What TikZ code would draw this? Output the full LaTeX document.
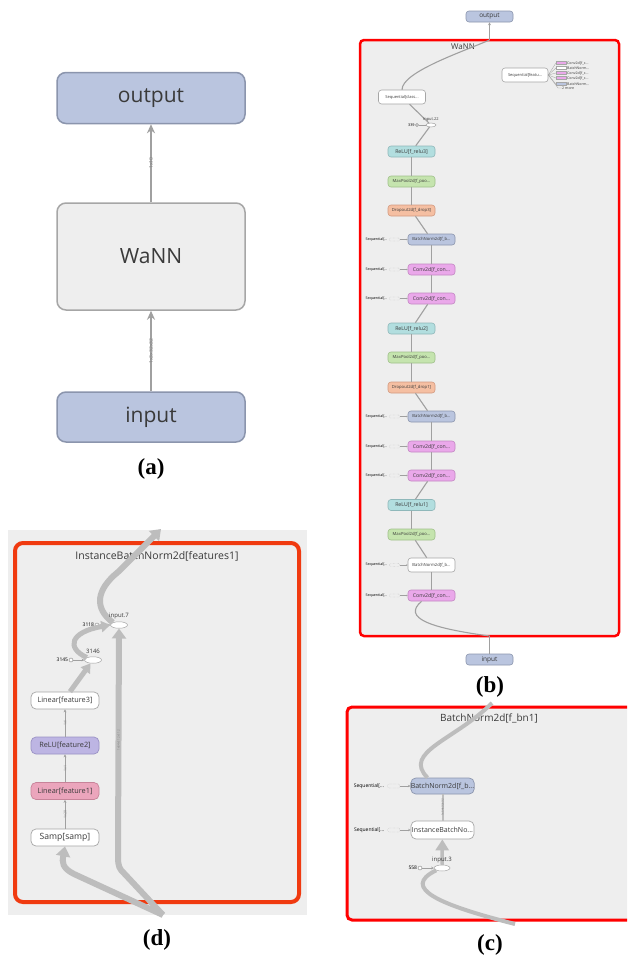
\documentclass[tikz,border=0pt]{standalone}
\usepackage{fontspec}
\setmainfont{Liberation Serif}
\newfontfamily\tbf{Open Sans}
\usetikzlibrary{arrows.meta,shapes.geometric}
\newcommand\tfs[1]{\fontsize{#1}{#1}\selectfont}
\definecolor{blueF}{HTML}{BAC5DF}
\definecolor{blueD}{HTML}{8B95AD}
\definecolor{panelG}{HTML}{EEEEEE}
\definecolor{grayD}{HTML}{A6A6A6}
\definecolor{tealF}{HTML}{B2DEDF}
\definecolor{tealD}{HTML}{8FB8BA}
\definecolor{greenF}{HTML}{C5E4AE}
\definecolor{greenD}{HTML}{9FC08A}
\definecolor{orangeF}{HTML}{F5BFA2}
\definecolor{orangeD}{HTML}{D29A80}
\definecolor{pinkF}{HTML}{EAA8EA}
\definecolor{pinkD}{HTML}{C386C3}
\definecolor{purpF}{HTML}{BDB5E3}
\definecolor{purpD}{HTML}{9A92C4}
\definecolor{roseF}{HTML}{EBA5BC}
\definecolor{roseD}{HTML}{C78399}
\definecolor{txt}{HTML}{3A3A3A}
\definecolor{edgeG}{HTML}{A0A0A0}
\definecolor{thkG}{HTML}{BDBDBD}
\definecolor{redD}{HTML}{F03A10}
\tikzset{
 abox/.style={rounded corners=9pt, minimum width=188pt, inner sep=0pt, line width=1.5pt, font=\tbf\tfs{21}, text=txt},
 aedge/.style={draw=edgeG, -{Stealth[length=9pt,width=8pt]}},
 elab/.style={rotate=90, font=\tbf\tfs{5}, text=gray, inner sep=0.3pt},
 bsmall/.style={rounded corners=3pt, minimum width=47pt, minimum height=11pt, inner sep=0pt, line width=0.6pt, font=\tbf\tfs{4.2}, text=txt},
 bbig/.style={bsmall, font=\tbf\tfs{5.2}},
 wnode/.style={fill=white, draw=grayD},
 bnode/.style={fill=blueF, draw=blueD},
 tnode/.style={fill=tealF, draw=tealD},
 gnode/.style={fill=greenF, draw=greenD},
 onode/.style={fill=orangeF, draw=orangeD},
 pnode/.style={fill=pinkF, draw=pinkD},
 bedge/.style={draw=edgeG, line width=1.1pt},
 seqlab/.style={font=\tbf\tfs{3.6}, text=black, inner sep=0pt, anchor=east},
 dotbox/.style={draw=grayD, densely dotted, rounded corners=1pt, minimum width=10pt, minimum height=3pt, inner sep=0pt, line width=0.3pt},
 ell/.style={ellipse, draw=grayD, fill=white, inner sep=0pt, line width=0.5pt},
 smallc/.style={circle, draw=gray, fill=white, inner sep=0pt, minimum size=4pt, line width=0.4pt},
 dnode/.style={rounded corners=5pt, minimum width=68pt, minimum height=17pt, inner sep=0pt, line width=0.7pt, font=\tbf\tfs{7.3}, text=txt},
 thk/.style={draw=thkG, line width=6pt},
 thkhead/.style={-{Triangle[width=14pt,length=10pt]}},
 capl/.style={font=\bfseries\tfs{23}},
}
\begin{document}
\begin{tikzpicture}[x=1pt,y=-1pt]
\useasboundingbox (0,0) rectangle (627,964);
\fill[white] (0,0) rectangle (627,964);

% ---------------- (a)
\node[abox, bnode, minimum height=51pt] (aout) at (151,98) {output};
\node[abox, fill=panelG, draw=grayD, minimum height=107pt] (awann) at (151,256.5) {WaNN};
\node[abox, bnode, minimum height=50pt] (ain) at (151,417) {input};
\draw[aedge, line width=1.6pt] (awann) -- node[elab]{1x10} (aout);
\draw[aedge, line width=2.8pt] (ain) -- node[elab]{1x3x32x32} (awann);
\node[capl] (capa) at (151,469) {(a)};

% ---------------- (b)
\draw[red, line width=2.5pt, rounded corners=4pt, fill=panelG] (360,40) rectangle (619,636);
\node[font=\tbf\tfs{8}, text=txt] (wtitle) at (463,47) {WaNN};
\node[bbig, bnode, font=\tbf\tfs{6.5}] (bout) at (489.5,16.5) {output};
\node[bbig, bnode, font=\tbf\tfs{6.5}] (bin) at (489.5,659.5) {input};
\coordinate (wtop) at (489.5,40);
\coordinate (wbot) at (489.5,636);
\draw[bedge, line width=0.8pt, -{Stealth[length=3pt,width=3pt]}] (wtop) -- (bout);
\draw[bedge, line width=0.8pt] (bin) -- (wbot);

\node[bsmall, wnode, minimum height=14pt, font=\tbf\tfs{4}] (cls) at (402,97) {Sequential[class...};
\node[bsmall, wnode, minimum height=14pt, minimum width=46pt, font=\tbf\tfs{4}] (feat) at (525,75) {Sequential[featu...};
\foreach \yy/\cc/\tt [count=\i] in {63/pinkF/{Conv2d[f\_c...},68/white/{BatchNorm...},73/pinkF/{Conv2d[f\_c...},78/pinkF/{Conv2d[f\_c...},84/blueF/{BatchNorm...}}{
  \node[fill=\cc, draw=grayD, line width=0.2pt, minimum width=10pt, minimum height=3pt, inner sep=0pt] (ch\i) at (561,\yy) {};
  \node[font=\tbf\tfs{3.6}, anchor=west, inner sep=0pt, text=txt] (cl\i) at (567,\yy) {\tt};
  \draw[edgeG, line width=0.3pt] (feat.east) -- (ch\i.west);
}
\coordinate (more) at (558,88);
\node[font=\tbf\tfs{3.6}, anchor=west, inner sep=0pt, text=txt] (cmore) at (562,88) {2 more};
\draw[edgeG, line width=0.3pt] (feat.east) -- (more) -- (cmore.west);

\node[ell, minimum width=10pt, minimum height=4pt] (e22) at (431,125) {};
\node[smallc, minimum size=3pt] (c339) at (417,125) {};
\node[font=\tbf\tfs{3.8}, anchor=east, inner sep=0.5pt] (n339) at (c339.west) {339};
\draw[edgeG, line width=0.3pt] (c339) -- (e22);

\node[bbig, tnode] (relu3) at (411.5,151.5) {ReLU[f\_relu3]};
\node[bsmall, gnode] (pool3) at (411.5,181.5) {MaxPool2d[f\_poo...};
\node[bsmall, onode] (drop3) at (411.5,210.5) {Dropout2d[f\_drop3]};
\node[bsmall, bnode] (bnA) at (431.5,239.5) {BatchNorm2d[f\_b...};
\node[bbig, pnode] (convA1) at (431.5,269.5) {Conv2d[f\_con...};
\node[bbig, pnode] (convA2) at (431.5,298.5) {Conv2d[f\_con...};
\node[bbig, tnode] (relu2) at (411.5,328.5) {ReLU[f\_relu2]};
\node[bsmall, gnode] (pool2) at (411.5,357.5) {MaxPool2d[f\_poo...};
\node[bsmall, onode] (drop1) at (411.5,387.5) {Dropout2d[f\_drop1]};
\node[bsmall, bnode] (bnB) at (431.5,416.5) {BatchNorm2d[f\_b...};
\node[bbig, pnode] (convB1) at (431.5,446.5) {Conv2d[f\_con...};
\node[bbig, pnode] (convB2) at (431.5,475.5) {Conv2d[f\_con...};
\node[bbig, tnode] (relu1) at (411.5,505) {ReLU[f\_relu1]};
\node[bsmall, gnode] (pool1) at (411.5,534.5) {MaxPool2d[f\_poo...};
\node[bsmall, wnode, minimum height=14pt] (bnC) at (431.5,565) {BatchNorm2d[f\_b...};
\node[bbig, pnode] (convC) at (431.5,595.5) {Conv2d[f\_con...};

\foreach \n in {bnA,convA1,convA2,bnB,convB1,convB2,bnC,convC}{
  \node[dotbox] (d\n) at ([xshift=-13pt]\n.west) {};
  \node[seqlab] (s\n) at ([xshift=-2pt]d\n.west) {Sequential[...};
  \draw[edgeG, line width=0.3pt, -{Stealth[length=1.5pt,width=1.5pt]}] (d\n) -- (\n);
}

\draw[bedge] (cls.north) .. controls (402,72) and (462,52) .. (wtop);
\draw[bedge] (cls) -- (e22);
\draw[bedge] (e22) -- (relu3);
\node[font=\tbf\tfs{4}, text=txt, inner sep=0pt] (l22) at (431,119.5) {input.22};
\draw[bedge] (relu3) -- (pool3);
\draw[bedge] (pool3) -- (drop3);
\draw[bedge] (drop3) -- (bnA);
\draw[bedge] (bnA) -- (convA1);
\draw[bedge] (convA1) -- (convA2);
\draw[bedge] (convA2) -- (relu2);
\draw[bedge] (relu2) -- (pool2);
\draw[bedge] (pool2) -- (drop1);
\draw[bedge] (drop1) -- (bnB);
\draw[bedge] (bnB) -- (convB1);
\draw[bedge] (convB1) -- (convB2);
\draw[bedge] (convB2) -- (relu1);
\draw[bedge] (relu1) -- (pool1);
\draw[bedge] (pool1) -- (bnC);
\draw[bedge, line width=1.4pt] (bnC) -- (convC);
\draw[bedge] ([xshift=-10pt]convC.south) .. controls (402,618) and (430,628) .. (wbot);
\node[capl] (capb) at (490,687) {(b)};

% ---------------- (c)
\begin{scope}
\clip (340,700) rectangle (627,930);
\draw[red, line width=3pt, rounded corners=5pt, fill=panelG] (347,707) rectangle (640,920);
\node[font=\tbf\tfs{10}, text=txt] (ctitle) at (489,718) {BatchNorm2d[f\_bn1]};
\node[dnode, bnode, minimum width=63pt, minimum height=16pt, font=\tbf\tfs{7}] (cbn) at (442.5,786) {BatchNorm2d[f\_b...};
\node[dnode, wnode, minimum width=63pt, minimum height=18pt, font=\tbf\tfs{7}] (cibn) at (442.5,830) {InstanceBatchNo...};
\foreach \n in {cbn,cibn}{
  \node[dotbox, minimum width=12pt, minimum height=4pt] (d\n) at ([xshift=-17pt]\n.west) {};
  \node[seqlab, font=\tbf\tfs{5}] (s\n) at ([xshift=-3pt]d\n.west) {Sequential[...};
  \draw[edgeG, line width=0.4pt, -{Stealth[length=2.5pt,width=2.5pt]}] (d\n) -- (\n);
}
\node[ell, minimum width=16pt, minimum height=6pt] (e3) at (442,868) {};
\node[smallc] (c558) at (420,868) {};
\node[font=\tbf\tfs{5}, anchor=east, inner sep=0.5pt] (n558) at (c558.west) {558};
\draw[edgeG, line width=0.4pt, -{Stealth[length=2.5pt,width=2.5pt]}] (c558) -- (e3);
\coordinate (ctop) at (492,703);
\coordinate (cbot) at (515,924);
\draw[thkG, line width=4pt] (ctop) .. controls (455,740) and (402,752) .. ([xshift=-15pt]cbn.north);
\draw[thkG, line width=2pt] (cibn) -- node[rotate=90, font=\tbf\tfs{3}, text=gray]{1x64x32x32} (cbn);
\draw[thkG, line width=3.5pt, -{Triangle[width=13pt,length=11pt]}] (e3) -- (cibn);
\draw[thkG, line width=4pt] (e3.south west) .. controls (400,888) and (440,905) .. (cbot);
\node[font=\tbf\tfs{6}, text=txt, inner sep=0pt] (l3) at (442,860) {input.3};
\end{scope}
\node[capl] (capc) at (490,945) {(c)};

% ---------------- (d)
\fill[panelG] (8,530) rectangle (307,915);
\draw[redD, line width=4pt, rounded corners=8pt, fill=panelG] (15,543) rectangle (299,902);
\node[font=\tbf\tfs{10.5}, text=txt] (dtitle) at (157,556) {InstanceBatchNorm2d[features1]};
\node[dnode, wnode] (lin3) at (65,700.5) {Linear[feature3]};
\node[dnode, fill=purpF, draw=purpD] (relu) at (65,745.5) {ReLU[feature2]};
\node[dnode, fill=roseF, draw=roseD] (lin1) at (65,791) {Linear[feature1]};
\node[dnode, wnode, font=\tbf\tfs{8.6}] (samp) at (65,837.5) {Samp[samp]};
\draw[edgeG, line width=0.5pt, -{Stealth[length=3pt,width=3pt]}] (samp) -- node[elab, font=\tbf\tfs{3.5}]{1x20} (lin1);
\draw[edgeG, line width=0.5pt, -{Stealth[length=3pt,width=3pt]}] (lin1) -- node[elab, font=\tbf\tfs{3.5}]{1x1} (relu);
\draw[edgeG, line width=0.5pt, -{Stealth[length=3pt,width=3pt]}] (relu) -- node[elab, font=\tbf\tfs{3.5}]{1x1} (lin3);

\node[ell, minimum width=17pt, minimum height=6.5pt] (e3146) at (93,660) {};
\node[smallc] (c3145) at (71,660) {};
\node[font=\tbf\tfs{5}, anchor=east, inner sep=0.5pt] (n3145) at (c3145.west) {3145};
\draw[edgeG, line width=0.4pt, -{Stealth[length=2.5pt,width=2.5pt]}] (c3145) -- (e3146);
\node[ell, minimum width=17pt, minimum height=6.5pt] (e7) at (119,625) {};
\node[smallc] (c3118) at (97,625) {};
\node[font=\tbf\tfs{5}, anchor=east, inner sep=0.5pt] (n3118) at (c3118.west) {3118};
\draw[edgeG, line width=0.4pt, -{Stealth[length=2.5pt,width=2.5pt]}] (c3118) -- (e7);

\coordinate (dbot) at (163,915);
\coordinate (dtop) at (161,529);
\draw[thk, thkhead] (dbot) -- (74,874) .. controls (62,868) and (62,862) .. (samp.south);
\draw[thk, thkhead] (dbot) -- (121,870) .. controls (118,866) and (118,862) .. (118,852) -- node[rotate=90, font=\tbf\tfs{3}, text=gray]{1x64x112x112} (e7.south);
\draw[thk, line width=5pt, -{Triangle[width=11pt,length=9pt]}] ([xshift=5pt]lin3.north) -- (e3146);
\draw[thk, line width=5pt, -{Triangle[width=11pt,length=9pt]}] (e3146.north west) .. controls (66,648) and (70,632) .. (e7.west);
\draw[thk, thkhead] (e7.north west) .. controls (94,608) and (96,590) .. (118,572) -- (dtop);
\node[font=\tbf\tfs{6}, text=txt, inner sep=0pt] (l3146) at (93,651.5) {3146};
\node[font=\tbf\tfs{6}, text=txt, inner sep=0pt] (l7) at (119,616) {input.7};
\node[capl] (capd) at (157,940) {(d)};
\end{tikzpicture}
\end{document}
